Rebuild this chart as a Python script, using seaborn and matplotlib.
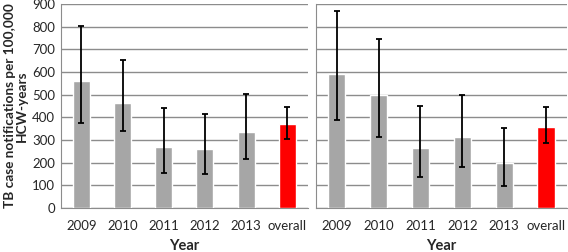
import numpy as np
import pandas as pd
import seaborn as sns
import matplotlib.pyplot as plt

# Data
categories = ["2009", "2010", "2011", "2012", "2013", "overall"]
left_rate = [560, 462, 271, 258, 337, 369]
left_low = [374, 341, 154, 150, 215, 303]
left_high = [804, 653, 441, 413, 504, 444]
right_rate = [591, 500, 263, 313, 199, 359]
right_low = [387, 315, 138, 181, 97, 288]
right_high = [869, 744, 450, 498, 353, 444]

sns.set_style("white")
plt.rcParams['font.family'] = ['Lato', 'DejaVu Sans']

bar_colors = ["#a6a6a6"] * 5 + ["#fe0000"]
grid_col = "#8c8c8c"

fig = plt.figure(figsize=(5.68, 2.52), dpi=100)
ax1 = fig.add_axes([0.107, 0.175, 0.435, 0.809])
ax2 = fig.add_axes([0.556, 0.175, 0.442, 0.809])

panels = [(ax1, left_rate, left_low, left_high), (ax2, right_rate, right_low, right_high)]
for ax, rate, low, high in panels:
    df = pd.DataFrame({"year": categories, "rate": rate})
    sns.barplot(data=df, x="year", y="rate", hue="year", palette=bar_colors,
                width=0.41, legend=False, ax=ax, zorder=3, saturation=1)
    yerr = [np.array(rate) - np.array(low), np.array(high) - np.array(rate)]
    ax.errorbar(np.arange(len(categories)), rate, yerr=yerr, fmt="none",
                ecolor="black", elinewidth=1.3, capsize=2.5, capthick=1.3, zorder=4)
    ax.set_ylim(0, 900)
    ax.set_xlim(-0.5, 5.5)
    ax.set_yticks(range(0, 901, 100))
    ax.yaxis.grid(True, color=grid_col, linewidth=1.0, zorder=0)
    ax.set_axisbelow(True)
    for s in ["top", "right"]:
        ax.spines[s].set_visible(False)
    ax.spines["left"].set_color(grid_col)
    ax.spines["bottom"].set_color(grid_col)
    ax.set_xticks(np.arange(-0.5, 6, 1), minor=True)
    ax.tick_params(axis="x", which="major", length=0, labelsize=9.5, pad=9)
    ax.tick_params(axis="x", which="minor", length=4, color=grid_col, width=1)
    ax.set_xlabel("Year", fontsize=10.5, fontweight="bold", labelpad=5)
    ax.set_ylabel("")

ax1.tick_params(axis="y", length=0, labelsize=9.5, pad=4)
ax1.set_ylabel("TB case notifications per 100,000\nHCW-years", fontsize=9.8,
               fontweight="bold", linespacing=1.0, labelpad=3)
ax2.tick_params(axis="y", length=0, labelleft=False)

fig.savefig("out.png", dpi=100)
